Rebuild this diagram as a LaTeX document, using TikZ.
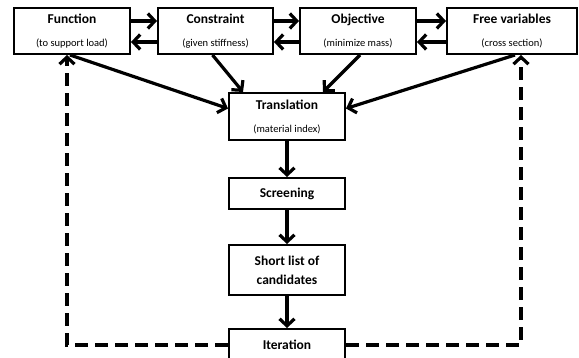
\documentclass[tikz,border=0pt]{standalone}
\usepackage{fontspec}
\setmainfont{Carlito}
\usetikzlibrary{arrows.meta, positioning}

\newcommand{\subtxt}[1]{{\fontsize{10.5}{12}\selectfont\mdseries #1}}

\tikzset{
  block/.style = {draw, line width=2pt, align=center, inner sep=0pt,
                  font=\fontsize{13.5}{19}\selectfont\bfseries},
  flow/.style = {line width=3.2pt, -{Straight Barb[length=7pt, width=15pt]}},
  loopback/.style = {flow, dash pattern=on 13pt off 7pt},
}

\begin{document}
\begin{tikzpicture} [x=1pt, y=1pt]
        \clip (0,0) rectangle (579,358);

        % top row
        \node (func) [block, minimum width=116, minimum height=46] at (72,327)
            {Function\\[4pt]\subtxt{(to support load)}};
        \node (cons) [block, minimum width=115, minimum height=46] at (215.5,327)
            {Constraint\\[4pt]\subtxt{(given stiffness)}};
        \node (obj) [block, minimum width=116, minimum height=46] at (358,327)
            {Objective\\[4pt]\subtxt{(minimize mass)}};
        \node (free) [block, minimum width=130, minimum height=46] at (512,327)
            {Free variables\\[4pt]\subtxt{(cross section)}};

        % middle column
        \node (trans) [block, minimum width=116, minimum height=47] at (287,241.5)
            {Translation\\[4pt]\subtxt{(material index)}};
        \node (screen) [block, minimum width=116, minimum height=31] at (287,164.5) {Screening};
        \node (short) [block, minimum width=116, minimum height=50] at (287,88)
            {Short list of\\candidates};
        \node (iter) [block, minimum width=116, minimum height=32] at (287,13) {Iteration};

        \coordinate (funcin) at ([xshift=-5pt]func.south);
        \coordinate (freein) at ([xshift=9pt]free.south);

        \foreach \a/\b in {func/cons, cons/obj, obj/free} {
            \path [flow] ([yshift=10pt]\a.east) edge ([yshift=10pt]\b.west);
            \path [flow] ([yshift=-11pt]\b.west) edge ([yshift=-11pt]\a.east);
        }

        \draw [flow] ([xshift=-2pt]func.south) -- ([yshift=8pt]trans.west);
        \draw [flow] ([xshift=-3pt]cons.south) -- ([xshift=-44pt]trans.north);
        \draw [flow] ([xshift=2pt]obj.south) -- ([xshift=36pt]trans.north);
        \draw [flow] ([xshift=3pt]free.south) -- ([yshift=8pt]trans.east);

        \foreach \a/\b in {trans/screen, screen/short, short/iter}
            \draw [flow] (\a) -- (\b);

        %\draw [loopback] (iter) -- (func);
        \draw [loopback] (iter.west) -| (funcin);
        \draw [loopback] (iter.east) -| (freein);
    \end{tikzpicture}
\end{document}
